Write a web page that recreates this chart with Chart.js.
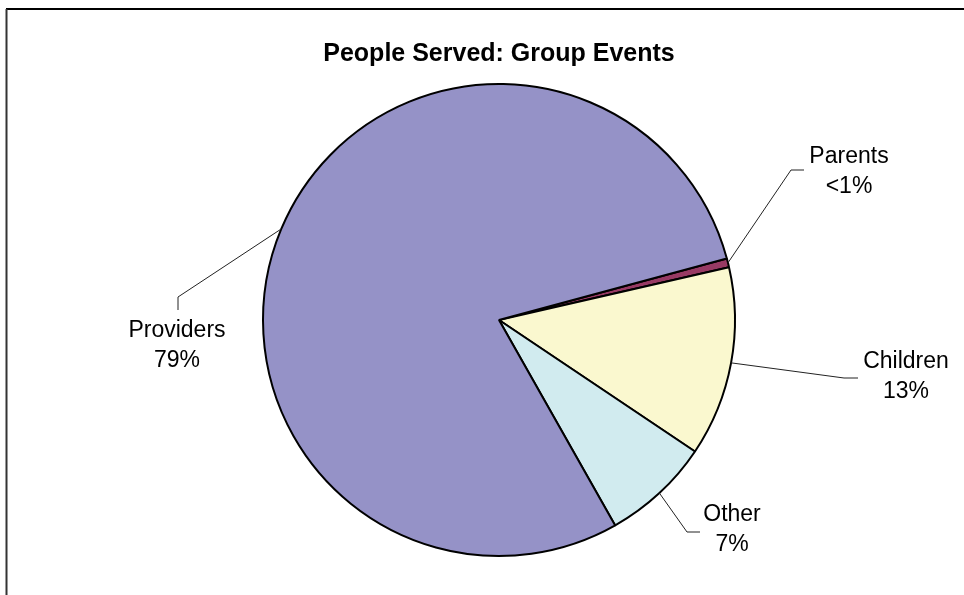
<!DOCTYPE html>
<html>
<head>
<meta charset="utf-8">
<script src="https://cdn.jsdelivr.net/npm/chart.js@4"></script>
<style>
  html, body { margin: 0; padding: 0; background: #fff; }
  #wrap { width: 964px; height: 595px; position: relative; }
</style>
</head>
<body>
<div id="wrap"><canvas id="pieChart" width="964" height="595"></canvas></div>
<script>
var categories = ['Parents', 'Children', 'Other', 'Providers'];
var shares = [0.6, 13.0, 7.4, 79.0];
var sliceColors = ['#983A64', '#FAF8CF', '#D1EBEF', '#9592C7'];

// where each label sits, relative to the pie centre (elbow, end of leader, text centre)
var labelSpots = {
	Parents:   { elbow: [292, -150], end: [305, -150], text: [350, -163] },
	Children:  { elbow: [345, 58], end: [359, 58], text: [407, 42] },
	Other:     { elbow: [188, 212], end: [201, 212], text: [233, 195] },
	Providers: { elbow: [-321, -23], end: [-321, -10], text: [-322, 11] }
};

function pctText(v, total) {
	var p = v / total * 100;
	if (p < 1) return '<1%';
	return Math.round(p) + '%';
}

var pieLabels = {
	id: 'pieLabels',
	afterDatasetsDraw: function(chart) {
		var ctx = chart.ctx;
		var meta = chart.getDatasetMeta(0);
		var total = shares.reduce(function(a, b) { return a + b; }, 0);
		ctx.save();
		// frame (only the top and left edges show in the picture)
		ctx.strokeStyle = '#000';
		ctx.lineWidth = 2;
		ctx.beginPath();
		ctx.moveTo(6, 9);
		ctx.lineTo(964, 9);
		ctx.stroke();
		ctx.strokeStyle = '#333';
		ctx.beginPath();
		ctx.moveTo(6.5, 9);
		ctx.lineTo(6.5, 595);
		ctx.stroke();

		meta.data.forEach(function(arc, i) {
			var name = categories[i];
			var spot = labelSpots[name];
			var mid = (arc.startAngle + arc.endAngle) / 2;
			var cx = arc.x, cy = arc.y;
			var sx = cx + Math.cos(mid) * arc.outerRadius;
			var sy = cy + Math.sin(mid) * arc.outerRadius;
			ctx.strokeStyle = '#222';
			ctx.lineWidth = 1;
			ctx.beginPath();
			ctx.moveTo(sx, sy);
			ctx.lineTo(cx + spot.elbow[0], cy + spot.elbow[1]);
			ctx.lineTo(cx + spot.end[0], cy + spot.end[1]);
			ctx.stroke();

			ctx.fillStyle = '#000';
			ctx.font = '23px "Liberation Sans", Arial, sans-serif';
			ctx.textAlign = 'center';
			ctx.textBaseline = 'middle';
			ctx.fillText(name, cx + spot.text[0], cy + spot.text[1]);
			ctx.fillText(pctText(shares[i], total), cx + spot.text[0], cy + spot.text[1] + 30);
		});
		ctx.restore();
	}
};

var ctx = document.getElementById('pieChart').getContext('2d');
var pieChart = new Chart(ctx, {
	type: 'pie',
	data: {
		labels: categories,
		datasets: [{
			data: shares,
			backgroundColor: sliceColors,
			borderColor: '#000',
			borderWidth: 2
		}]
	},
	options: {
		responsive: false,
		animation: false,
		rotation: 74.9,
		layout: {
			padding: { top: 0, bottom: 38, left: 262, right: 228 }
		},
		plugins: {
			legend: { display: false },
			tooltip: { enabled: false },
			title: {
				display: true,
				text: 'People Served: Group Events',
				color: '#000',
				font: { size: 25, weight: 'bold', family: '"Liberation Sans", Arial, sans-serif', lineHeight: 1.2 },
				padding: { top: 39, bottom: 14 }
			}
		}
	},
	plugins: [pieLabels]
});
</script>
</body>
</html>
